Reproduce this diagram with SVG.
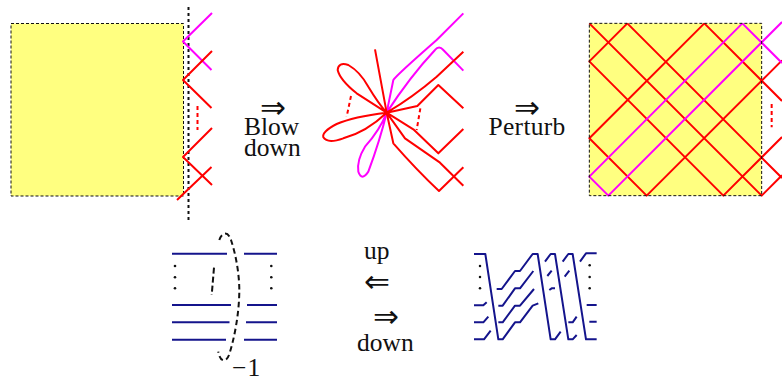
<svg xmlns="http://www.w3.org/2000/svg" width="782" height="381" viewBox="0 0 782 381">
<style>
.t{font-family:"Liberation Serif","Times New Roman",serif;font-size:25.5px;fill:#111}
.a{font-family:"DejaVu Sans",sans-serif;font-size:31px;fill:#111;text-anchor:middle}
.sq{fill:#ffff80;stroke:#111;stroke-width:1;stroke-dasharray:3 2}
path,line{fill:none;stroke-linejoin:round}
.r{stroke:#f00;stroke-width:2}
.m{stroke:#f0f;stroke-width:2}
.rd{stroke:#f00;stroke-width:2;stroke-dasharray:4 3}
.rz{stroke:#f00;stroke-width:6}
.mz{stroke:#f0f;stroke-width:6}
.rdz{stroke:#f00;stroke-width:6;stroke-dasharray:12 9}
.n{stroke:#14148c;stroke-width:2}
.nz{stroke:#14148c;stroke-width:6}
</style>
<g id="left-square">
<rect class="sq" x="11" y="23.500" width="172.500" height="172.500"/>
<line x1="188.500" y1="7" x2="188.500" y2="221" stroke="#111" stroke-width="2" stroke-dasharray="3 3"/>
<path class="m" d="M212,13L183,41.500L211.500,70"/>
<path class="r" d="M212,51L183,80L211.500,108M212,128L183,157L212,185M211.500,167L177,200"/>
<line class="rd" x1="197.500" y1="106" x2="197.500" y2="130"/>
</g>
<g id="blown-down" transform="translate(240 0) scale(.33333)">
<path class="mz" d="M440,338L460,240Q470,225 590,120L670,40M440,338Q510,230 585,150Q597,135 610,150L670,212M440,338Q420,420 385,515Q365,545 355,515Q350,480 375,440Q420,390 440,338"/>
<path class="rz" d="M405,148L440,338M440,338L350,280Q300,240 293,210Q295,185 325,195Q360,215 385,260Q415,310 440,338M440,338Q340,350 290,372Q245,395 250,412Q262,432 310,415Q380,395 440,338M440,338Q520,290 590,230L670,155M440,338L532,318L595,255L670,325M440,338L520,388L595,460L670,387M440,338L495,415L600,488L670,557M440,338L460,430Q530,510 597,573L670,502"/>
<line class="rdz" x1="333" y1="288" x2="320" y2="350"/>
<line class="rdz" x1="541" y1="325" x2="530" y2="390"/>
</g>
<g id="perturbed" transform="translate(480 0) scale(.33333)">
<rect x="328" y="70" width="517" height="517" fill="#ffff80"/>
<path class="rz" d="M328,70L845,587L906,526M442,70L328,184L730,587L906,411M442,70L845,473L906,534M673,70L328,415L500,587L906,181M673,70L906,303"/>
<path class="mz" d="M787,70L328,530L385,587L906,66M787,70L906,189"/>
<rect x="328" y="70" width="517" height="517" fill="none" stroke="#111" stroke-width="3" stroke-dasharray="9 6"/>
<line class="rdz" x1="875" y1="312" x2="875" y2="382"/>
</g>
<g id="labels-top">
<text class="a" x="273" y="118">⇒</text>
<text class="t" x="244" y="135">Blow</text>
<text class="t" x="244" y="155.500">down</text>
<text class="a" x="527" y="118">⇒</text>
<text class="t" x="488.500" y="135" letter-spacing=".3">Perturb</text>
</g>
<g id="link-left">
<path class="n" d="M172,253.700H227M244,253.700H277M172,305H231M247,305H277M172,322.300H229.500M246,322.300H277M172,339.700H226M244,339.700H277"/>
<g fill="#111"><circle cx="175" cy="266" r="1.300"/><circle cx="175" cy="277.300" r="1.300"/><circle cx="175" cy="288.300" r="1.300"/><circle cx="271.300" cy="266" r="1.300"/><circle cx="271.300" cy="277.300" r="1.300"/><circle cx="271.300" cy="288.300" r="1.300"/></g>
<line x1="214" y1="267.700" x2="211.700" y2="295" stroke="#111" stroke-width="2" stroke-dasharray="6 3"/>
<path d="M219.300,240C222,232 228,231 231,240C236,255 239.500,275 239.300,292C239,315 234,340 229,355C226,363 220,362 218.300,351.700" stroke="#111" stroke-width="2" stroke-dasharray="5.500 3.500"/>
<text class="t" x="232" y="375.500" letter-spacing="1">−1</text>
</g>
<g id="labels-bottom">
<text class="t" x="364" y="259">up</text>
<text class="a" x="377" y="292">⇐</text>
<text class="a" x="386" y="327">⇒</text>
<text class="t" x="357" y="350.500">down</text>
</g>
<g id="link-right" transform="translate(460 240) scale(.33333)">
<path class="nz" d="M42,42H76L115,298H128L165,247H180L218,197L235,190M110,147H125L165,93H180L218,42H233L272,298H285L302,275M115,197H128L165,145H180L220,93M115,247H128L165,197H180L222,147M42,196H70L80,187M42,247H70L85,230M42,298H72L92,272M255,65L272,42H285L325,298H338L350,285M262,108L275,92M268,150L275,145H285M308,65L325,42H338L378,298H410M314,110L328,92M325,247H338L350,230M360,65L378,40H410M380,195H410M388,245H410"/>
<g fill="#111"><circle cx="60" cy="78" r="3.800"/><circle cx="60" cy="111" r="3.800"/><circle cx="60" cy="145" r="3.800"/><circle cx="389" cy="76" r="3.800"/><circle cx="389" cy="111" r="3.800"/><circle cx="389" cy="145" r="3.800"/></g>
</g>
</svg>
